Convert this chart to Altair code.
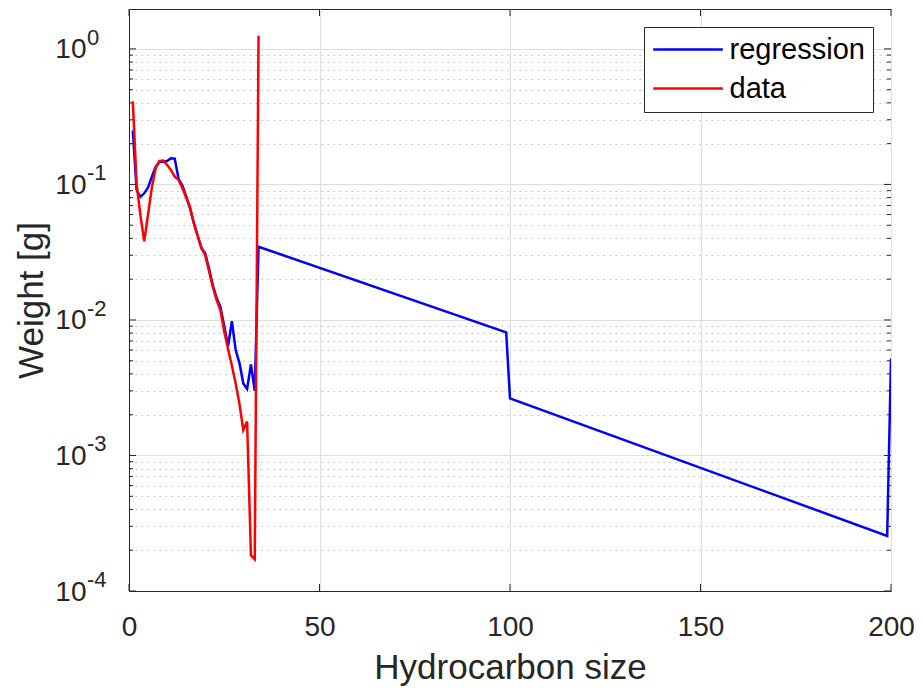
import json
import altair as alt
import pandas as pd

# ---- data ----
data_x = list(range(1, 35))
data_w = [0.41, 0.10, 0.059, 0.038, 0.060, 0.095, 0.132, 0.149, 0.150, 0.139,
          0.128, 0.114, 0.108, 0.094, 0.080, 0.068, 0.052, 0.042, 0.034, 0.030,
          0.023, 0.0175, 0.014, 0.0118, 0.0082, 0.0061, 0.0046, 0.0034, 0.0024, 0.00154,
          0.00178, 0.000184, 0.000172, 1.25]

reg_x = list(range(1, 35)) + [99, 100, 199, 200]
reg_w = [0.25, 0.091, 0.081, 0.086, 0.095, 0.114, 0.135, 0.147, 0.147, 0.149,
         0.156, 0.155, 0.110, 0.098, 0.082, 0.067, 0.052, 0.042, 0.034, 0.031,
         0.024, 0.018, 0.0145, 0.0125, 0.0090, 0.0064, 0.0098, 0.0060, 0.0048, 0.0034,
         0.0031, 0.0047, 0.0030, 0.0347, 0.0081, 0.00264, 0.000255, 0.0052]

series_names = ["regression", "data"]
series_colors = ["#0000ff", "#ff0000"]

x_ticks = [0, 50, 100, 150, 200]
y_major = [0.0001, 0.001, 0.01, 0.1, 1]
y_base_text = "10"
y_exp_text = ["-4", "-3", "-2", "-1", "0"]
y_minor = [m * d for d in y_major[:-1] for m in range(2, 10)]
y_grid = sorted(y_major + y_minor)

reg_df = pd.DataFrame({"size": reg_x, "weight": reg_w, "series": "regression"})
dat_df = pd.DataFrame({"size": data_x, "weight": data_w, "series": "data"})
exp_df = pd.DataFrame({"weight": y_major, "exp": y_exp_text})
ymaj_df = pd.DataFrame({"weight": y_major})
ymin_df = pd.DataFrame({"weight": y_minor})
xmaj_df = pd.DataFrame({"size": x_ticks})

W, H = 762, 582
TXT = "#262626"
FONT = "Liberation Sans"

is_major = "indexof(%s, datum.value) >= 0" % json.dumps(y_major)
label_expr = "%s ? '%s' : ''" % (is_major, y_base_text)

x_enc = alt.X("size:Q",
              scale=alt.Scale(domain=[0, 200], nice=False, zero=False),
              axis=alt.Axis(values=x_ticks, title="Hydrocarbon size", grid=True,
                            gridColor="#dedede", gridWidth=1, ticks=False,
                            labelFlush=False, labelPadding=22, labelFontSize=28,
                            titleFontSize=35, titlePadding=9))
y_enc = alt.Y("weight:Q",
              scale=alt.Scale(type="log", domain=[0.0001, 1.97], nice=False),
              axis=alt.Axis(values=y_grid, title="Weight [g]", grid=True,
                            gridColor={"condition": {"test": is_major, "value": "#dedede"},
                                       "value": "#bcbcbc"},
                            gridDash={"condition": {"test": is_major, "value": []},
                                      "value": [1.5, 4.5]},
                            gridWidth=1, ticks=False, labelExpr=label_expr,
                            labelOverlap=False, labelFlush=False, labelPadding=43,
                            labelOffset=1,
                            labelFontSize=28, titleFontSize=35, titlePadding=5))
color_enc = alt.Color("series:N",
                      scale=alt.Scale(domain=series_names, range=series_colors),
                      legend=alt.Legend(title=None))

reg_line = alt.Chart(reg_df).mark_line(strokeWidth=2.5, clip=True).encode(
    x=x_enc, y=y_enc, color=color_enc)
dat_line = alt.Chart(dat_df).mark_line(strokeWidth=2.5, clip=True).encode(
    x=x_enc, y=y_enc, color=color_enc)
exp_text = alt.Chart(exp_df).mark_text(
    align="left", baseline="alphabetic", dy=-4, fontSize=22, font=FONT,
    color=TXT, clip=False).encode(
    x=alt.value(-42), y=y_enc, text="exp:N")

# inward tick marks on all four sides (MATLAB box style)
tick_style = dict(color=TXT, strokeWidth=1, clip=False)
ymaj_left = alt.Chart(ymaj_df).mark_rule(**tick_style).encode(
    y=y_enc, x=alt.value(0), x2=alt.value(7))
ymaj_right = alt.Chart(ymaj_df).mark_rule(**tick_style).encode(
    y=y_enc, x=alt.value(W - 7), x2=alt.value(W))
ymin_left = alt.Chart(ymin_df).mark_rule(**tick_style).encode(
    y=y_enc, x=alt.value(0), x2=alt.value(4))
ymin_right = alt.Chart(ymin_df).mark_rule(**tick_style).encode(
    y=y_enc, x=alt.value(W - 4), x2=alt.value(W))
x_bottom = alt.Chart(xmaj_df).mark_rule(**tick_style).encode(
    x=x_enc, y=alt.value(H), y2=alt.value(H - 7))
x_top = alt.Chart(xmaj_df).mark_rule(**tick_style).encode(
    x=x_enc, y=alt.value(0), y2=alt.value(7))

chart = alt.layer(
    ymaj_left, ymaj_right, ymin_left, ymin_right, x_bottom, x_top,
    reg_line, dat_line, exp_text
).properties(
    width=W, height=H,
    autosize=alt.AutoSizeParams(type="none"),
    padding={"left": 129, "top": 9, "right": 32, "bottom": 103},
    background="white",
).configure_view(
    stroke=TXT, strokeWidth=1
).configure_axis(
    domainColor=TXT, labelColor=TXT, titleColor=TXT,
    labelFont=FONT, titleFont=FONT, titleFontWeight="normal"
).configure_legend(
    orient="top-right", offset=18, padding=8,
    strokeColor=TXT, fillColor="white", cornerRadius=0,
    labelFont=FONT, labelFontSize=29, labelColor="#000000", labelLimit=300,
    symbolType="M-2.9,0H2.9", symbolSize=576, symbolStrokeWidth=2.5,
    symbolOffset=21.5, rowPadding=9, labelOffset=27
)

chart.save("out.html", embed_options={"renderer": "svg", "actions": False})
